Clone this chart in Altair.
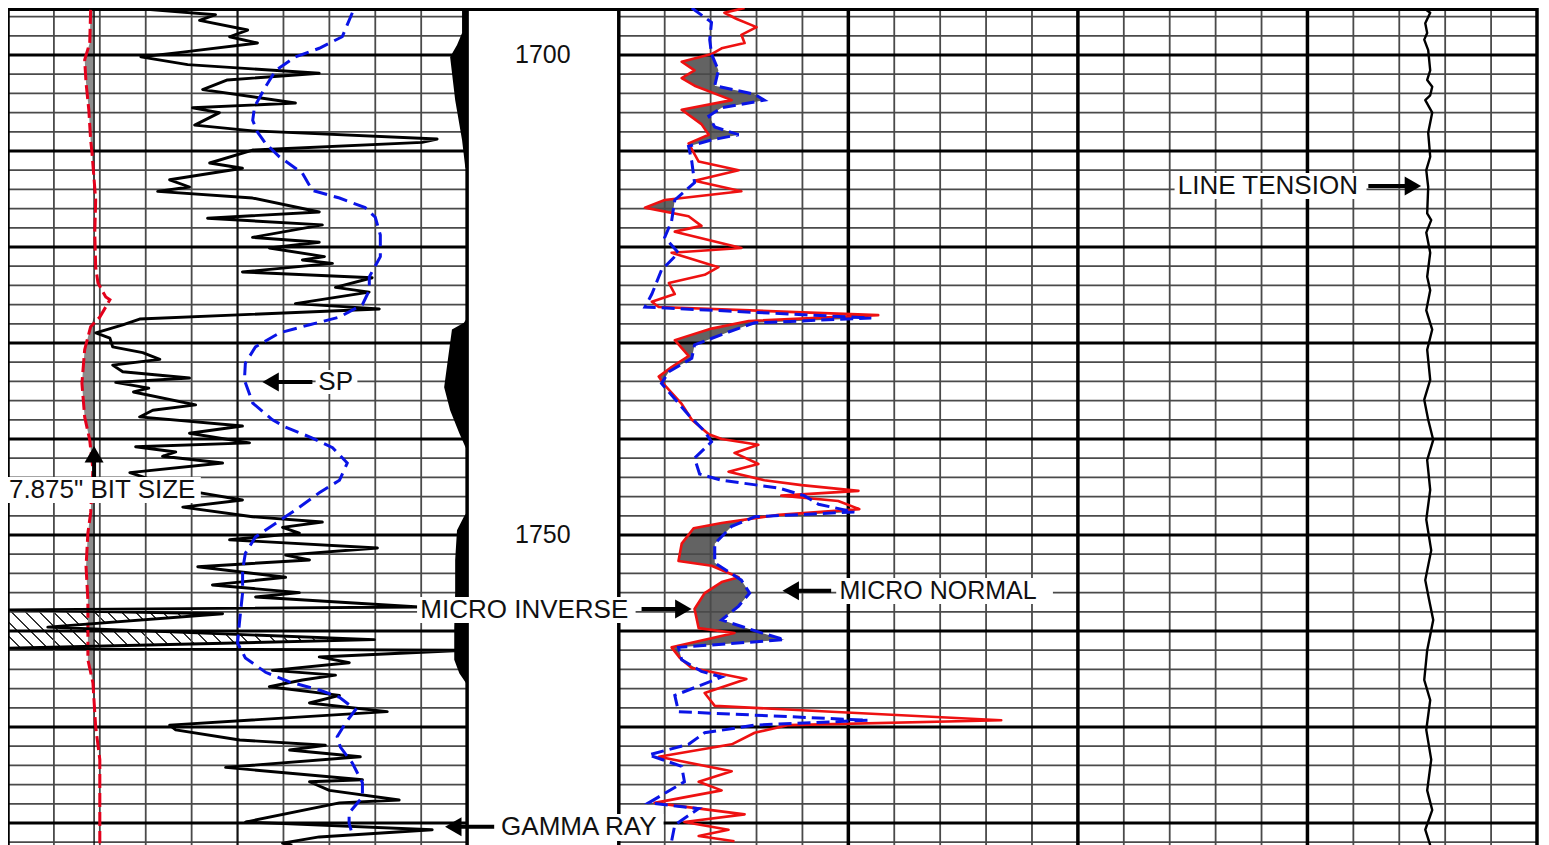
import numpy as np
import pandas as pd
import altair as alt

# ------------------------------------------------------------------
# Well-log data (depth in ft, curve values in their natural units)
# ------------------------------------------------------------------
GR = [  # gamma ray, API (track 1, 0-150)
    (1695.0, 47.3), (1695.2, 43.4), (1695.8, 67.8), (1696.4, 62.6), (1697.4, 78.3), (1698.1, 72.4),
    (1698.75, 81.5), (1699.7, 57.1), (1700.2, 43.4), (1701.0, 58.7), (1701.9, 101.7), (1702.6, 71.7),
    (1703.6, 63.6), (1705.0, 93.9), (1705.5, 60.3), (1706.0, 69.1), (1707.3, 61.0), (1707.9, 79.9),
    (1708.75, 140.2), (1709.1, 135.3), (1709.9, 79.9), (1711.25, 65.9), (1711.8, 76.6), (1713.0, 52.8),
    (1713.75, 59.3), (1714.2, 48.9), (1714.9, 79.9), (1716.35, 101.7), (1717.0, 65.2), (1717.7, 102.7),
    (1719.0, 79.9), (1719.5, 101.7), (1720.1, 85.4), (1721.0, 103.4), (1721.35, 96.2), (1721.7, 106.0),
    (1722.6, 76.6), (1723.2, 119.0), (1724.2, 107.0), (1724.7, 118.0), (1725.9, 93.9), (1726.45, 121.3),
    (1727.5, 43.0), (1728.1, 37.5), (1728.95, 28.7), (1729.5, 33.3), (1730.4, 34.2), (1731.0, 44.0),
    (1731.7, 49.6), (1732.3, 34.2), (1733.0, 37.5), (1733.65, 59.3), (1734.1, 35.2), (1734.7, 46.0),
    (1735.1, 41.0), (1736.45, 61.3), (1737.0, 47.3), (1737.7, 43.0), (1738.65, 76.6), (1739.4, 59.3),
    (1740.4, 78.9), (1740.8, 41.7), (1741.35, 54.8), (1741.8, 50.5), (1742.5, 70.1), (1743.5, 39.8),
    (1745.3, 57.1), (1746.35, 76.6), (1747.1, 57.1), (1748.1, 79.9), (1748.65, 102.7), (1749.2, 89.7),
    (1749.8, 95.2), (1750.5, 72.4), (1751.35, 120.7), (1752.1, 90.7), (1752.6, 98.5), (1753.3, 62.0),
    (1754.4, 90.7), (1755.2, 66.8), (1756.0, 95.2), (1756.45, 80.9), (1757.5, 134.3), (1757.8, 0.0),
    (1758.2, 70.1), (1759.6, 13.0), (1760.9, 119.7), (1761.8, 0.0), (1762.0, 149.3), (1762.7, 101.7),
    (1763.3, 111.5), (1764.1, 86.4), (1764.6, 107.0), (1765.1, 96.2), (1765.8, 85.4), (1766.7, 108.3),
    (1767.5, 98.5), (1768.4, 123.9), (1769.8, 52.8), (1770.3, 54.8), (1771.35, 75.7), (1771.9, 103.7),
    (1772.4, 92.0), (1773.1, 115.1), (1774.2, 71.1), (1775.5, 115.8), (1775.7, 98.5), (1776.6, 105.0),
    (1777.6, 127.8), (1777.9, 108.3), (1779.9, 77.6), (1780.7, 138.6), (1781.45, 101.7), (1782.1, 89.7),
    (1782.3, 92.9),
]
GR_HATCH_ZONE = (1757.8, 1761.8)

SP = [  # spontaneous potential, mV (track 1, -100..0)
    (1695.6, -25.0), (1698.1, -27.2), (1699.3, -32.2), (1700.2, -37.4), (1701.6, -41.7), (1703.3, -43.9),
    (1705.4, -46.3), (1706.8, -46.7), (1708.0, -45.7), (1709.2, -43.9), (1710.6, -40.9), (1712.3, -35.9),
    (1714.1, -33.7), (1714.9, -27.8), (1715.9, -22.2), (1716.9, -20.0), (1718.75, -18.9), (1721.0, -18.9),
    (1723.1, -21.3), (1724.5, -21.3), (1726.0, -22.8), (1727.3, -27.8), (1728.1, -34.3), (1728.95, -40.9),
    (1730.4, -46.1), (1732.1, -48.3), (1733.85, -48.5), (1736.25, -46.7), (1738.0, -42.4), (1738.75, -39.6),
    (1739.9, -33.7), (1740.9, -29.3), (1742.5, -26.1), (1744.3, -27.8), (1745.6, -32.2), (1747.4, -37.4),
    (1749.0, -42.4), (1750.2, -46.1), (1751.9, -48.3), (1753.65, -48.9), (1756.0, -48.9), (1759.2, -49.6),
    (1761.25, -50.0), (1762.8, -48.3), (1764.3, -43.9), (1765.3, -38.7), (1766.15, -32.2), (1766.9, -27.8),
    (1768.2, -24.3), (1769.6, -26.5), (1771.0, -28.3), (1772.1, -27.6), (1773.75, -25.0), (1775.8, -22.8),
    (1777.3, -22.8), (1778.95, -25.7), (1780.0, -25.7), (1781.25, -25.0),
]

CALI = [  # caliper, inches (track 1, 6..16)
    (1695.3, 7.80), (1698.75, 7.78), (1700.5, 7.67), (1702.9, 7.70), (1705.7, 7.76), (1708.85, 7.80),
    (1710.2, 7.83), (1715.1, 7.91), (1718.5, 7.89), (1722.1, 7.91), (1723.75, 7.96), (1725.2, 8.13),
    (1725.5, 8.22), (1727.3, 8.0), (1728.3, 7.80), (1730.7, 7.67), (1734.2, 7.61), (1737.7, 7.67),
    (1740.1, 7.78), (1743.2, 7.85), (1747.7, 7.80), (1749.8, 7.74), (1753.3, 7.70), (1756.8, 7.74),
    (1763.0, 7.74), (1765.4, 7.85), (1770.0, 7.91), (1773.4, 8.0), (1782.1, 8.0),
]
BIT_SIZE = 7.875

SHADE = [  # hole-condition shading at right edge of track 1, inches inward
    (1695.0, 0.11), (1697.7, 0.11), (1698.96, 0.22), (1700.2, 0.37), (1704.7, 0.26), (1708.85, 0.11),
    (1711.7, 0.04), (1712.0, 0.0), (1727.4, 0.0), (1727.9, 0.07), (1728.6, 0.33), (1730.7, 0.39),
    (1734.6, 0.50), (1737.0, 0.37), (1739.4, 0.17), (1740.8, 0.04), (1741.15, 0.0), (1747.6, 0.0),
    (1748.1, 0.07), (1749.5, 0.22), (1752.6, 0.26), (1756.0, 0.26), (1759.6, 0.28), (1763.0, 0.28),
    (1764.4, 0.17), (1765.3, 0.04), (1765.6, 0.0), (1782.3, 0.0),
]

MINV = [  # micro inverse, ohm-m (track 2, 0..20)
    (1695.1, 2.74), (1695.6, 2.30), (1696.25, 2.57), (1697.1, 3.0), (1697.9, 2.67), (1698.75, 2.74),
    (1699.3, 2.24), (1699.9, 2.02), (1700.7, 1.37), (1701.6, 1.65), (1702.4, 1.37), (1703.2, 1.65),
    (1704.7, 2.46), (1705.7, 1.37), (1707.2, 1.80), (1708.3, 1.96), (1709.2, 1.52), (1711.1, 1.74),
    (1712.0, 2.61), (1713.1, 1.65), (1714.2, 2.67), (1715.1, 1.0), (1715.9, 0.57), (1716.8, 1.52),
    (1717.8, 1.80), (1718.4, 1.22), (1720.1, 2.67), (1720.6, 1.15), (1722.1, 2.17), (1722.9, 1.87),
    (1723.75, 1.09), (1724.9, 1.22), (1725.7, 0.72), (1726.25, 0.87), (1727.1, 5.65), (1727.7, 2.83),
    (1728.5, 2.02), (1729.7, 1.22), (1731.35, 1.52), (1732.5, 1.15), (1733.5, 0.87), (1734.4, 1.0),
    (1736.35, 1.37), (1738.0, 1.59), (1739.5, 1.96), (1740.0, 2.24), (1740.6, 3.04), (1741.45, 2.52),
    (1742.6, 3.04), (1743.4, 2.39), (1744.3, 3.17), (1744.8, 3.98), (1745.4, 5.22), (1745.9, 3.54),
    (1746.45, 4.78), (1747.3, 5.24), (1747.9, 3.48), (1748.75, 2.24), (1749.3, 1.63), (1750.9, 1.37),
    (1752.7, 1.30), (1753.2, 2.02), (1754.4, 2.61), (1754.9, 2.24), (1756.05, 1.87), (1757.7, 1.65),
    (1759.7, 1.74), (1760.2, 2.52), (1761.7, 1.15), (1762.8, 1.33), (1763.85, 1.59), (1765.0, 2.78),
    (1766.45, 1.87), (1767.8, 2.09), (1769.3, 8.33), (1769.8, 3.70), (1770.6, 2.96), (1771.8, 2.46),
    (1773.1, 0.87), (1774.6, 2.46), (1775.7, 1.74), (1776.6, 2.24), (1777.9, 0.78), (1779.1, 2.74),
    (1779.9, 1.43), (1780.7, 2.39), (1781.35, 1.74), (1781.9, 2.52),
]

MNOR = [  # micro normal, ohm-m (track 2, 0..20)
    (1695.1, 1.59), (1696.6, 2.02), (1698.4, 1.98), (1699.9, 2.02), (1701.6, 2.17), (1703.2, 2.09),
    (1704.1, 2.96), (1704.7, 3.17), (1705.5, 2.24), (1706.35, 1.96), (1707.5, 2.09), (1708.3, 2.61),
    (1708.85, 2.02), (1709.5, 1.52), (1711.1, 1.59), (1713.3, 1.65), (1715.1, 1.22), (1717.3, 1.15),
    (1719.0, 1.0), (1720.6, 1.30), (1722.4, 0.93), (1724.9, 0.72), (1726.25, 0.57), (1727.4, 5.50),
    (1727.9, 2.96), (1728.85, 2.39), (1730.2, 1.65), (1731.6, 1.59), (1733.0, 1.09), (1734.2, 0.93),
    (1737.5, 1.52), (1739.2, 1.87), (1740.3, 2.02), (1742.0, 1.65), (1743.65, 1.76), (1744.3, 2.24),
    (1745.1, 3.48), (1745.9, 4.04), (1746.8, 4.35), (1747.6, 5.13), (1748.1, 2.96), (1749.1, 2.46),
    (1750.9, 2.09), (1752.9, 2.09), (1754.7, 2.67), (1756.05, 2.85), (1757.4, 2.61), (1758.85, 2.24),
    (1760.2, 3.11), (1760.9, 3.61), (1761.7, 1.30), (1763.0, 1.37), (1764.2, 1.80), (1764.8, 2.24),
    (1766.7, 1.22), (1768.4, 1.30), (1769.3, 5.43), (1769.8, 2.96), (1770.6, 1.87), (1771.8, 1.52),
    (1772.9, 0.65), (1774.1, 1.37), (1775.7, 1.43), (1777.9, 0.65), (1778.5, 1.74), (1780.2, 1.22),
    (1781.9, 1.15),
]

TENS = [  # line tension, lb (track 2, 0..10000)
    (1695.0, 8750), (1695.6, 8837), (1696.7, 8783), (1697.7, 8804), (1698.4, 8772), (1699.5, 8815),
    (1701.6, 8837), (1702.6, 8804), (1703.3, 8859), (1704.2, 8837), (1704.7, 8783), (1706.0, 8859),
    (1708.1, 8815), (1710.6, 8837), (1712.0, 8794), (1713.75, 8815), (1716.5, 8804), (1717.2, 8848),
    (1718.5, 8794), (1720.6, 8837), (1723.1, 8804), (1724.5, 8837), (1726.6, 8794), (1728.6, 8859),
    (1730.7, 8804), (1733.85, 8837), (1735.9, 8772), (1738.0, 8815), (1740.1, 8870), (1742.2, 8804),
    (1745.3, 8837), (1748.4, 8794), (1751.6, 8848), (1754.7, 8783), (1756.8, 8826), (1758.85, 8870),
    (1762.0, 8804), (1765.1, 8772), (1767.2, 8837), (1770.3, 8794), (1773.4, 8848), (1776.6, 8804),
    (1778.65, 8859), (1780.7, 8783), (1782.3, 8837),
]

DEPTH_LABELS = [1700, 1750]

# annotations: text, x (track divisions), depth, font size, align
LABELS = [
    ("SP", 6.76, 1734.06, 26, "left"),
    ('7.875" BIT SIZE', 0.02, 1745.3, 26, "left"),
    ("GAMMA RAY", 10.74, 1780.4, 26, "left"),
    ("MICRO INVERSE", 8.98, 1757.8, 26, "left"),
    ("MICRO NORMAL", 18.11, 1755.8, 25, "left"),
    ("LINE TENSION", 25.48, 1713.65, 26, "left"),
]
LABEL_BOXES = [  # x1, x2 (divisions), depth1, depth2
    (6.70, 7.61, 1732.8, 1735.3),
    (0.0, 4.20, 1743.96, 1746.67),
    (10.67, 14.28, 1779.06, 1781.88),
    (8.91, 13.67, 1756.46, 1759.17),
    (18.04, 22.76, 1754.48, 1757.19),
    (25.41, 29.59, 1712.29, 1715.0),
]
ARROWS = [  # tip x, tip depth, tail x, tail depth
    (5.54, 1734.06, 6.63, 1734.06),
    (1.875, 1740.73, 1.875, 1743.96),
    (9.52, 1780.4, 10.59, 1780.4),
    (14.89, 1757.7, 13.80, 1757.7),
    (16.87, 1755.8, 17.93, 1755.8),
    (30.78, 1713.65, 29.63, 1713.65),
]

# ------------------------------------------------------------------
# Layout: horizontal coordinate in chart divisions
#   track 1: 0..10, depth column 10..13.304, track 2: 13.304..33.304
# ------------------------------------------------------------------
W, H = 1529, 837
N_DIV = 33.304
T2 = 13.304
DEPTH_TOP, DEPTH_BOT = 1695.104, 1782.29
PX_DIV = W / N_DIV
PX_FT = H / (DEPTH_BOT - DEPTH_TOP)
FONT = "Liberation Sans"

X = alt.X("pos:Q", scale=alt.Scale(domain=[0, N_DIV], nice=False, zero=False), axis=None)
X2 = alt.X2("pos2:Q")
Y = alt.Y("depth:Q", scale=alt.Scale(domain=[DEPTH_TOP, DEPTH_BOT], reverse=True, nice=False, zero=False),
          axis=None)
Y2 = alt.Y2("depth2:Q")


def curve(pairs, to_pos):
    df = pd.DataFrame(pairs, columns=["depth", "val"])
    df["pos"] = to_pos(df["val"])
    df["idx"] = np.arange(len(df))
    return df


gr = curve(GR, lambda v: v / 15.0)
sp = curve(SP, lambda v: (v + 100.0) / 10.0)
cal = curve(CALI, lambda v: v - 6.0)
shade = curve(SHADE, lambda v: 10.0 - v)
minv = curve(MINV, lambda v: T2 + v)
mnor = curve(MNOR, lambda v: T2 + v)
tens = curve(TENS, lambda v: T2 + v / 500.0)
bit_pos = BIT_SIZE - 6.0

# fills
cal_fill = cal.copy()
cal_fill["pos"] = np.minimum(cal["pos"], bit_pos)
cal_fill["pos2"] = bit_pos
shade["pos2"] = 10.0
mnor_fill = mnor.copy(); mnor_fill["pos2"] = T2
minv_fill = minv.copy(); minv_fill["pos2"] = T2
hatch = gr[(gr["depth"] >= GR_HATCH_ZONE[0]) & (gr["depth"] <= GR_HATCH_ZONE[1])].copy()
hatch["pos2"] = 0.0

# hatch pattern as striped linear gradient
hw = hatch["pos"].max() * PX_DIV
hh = (hatch["depth"].max() - hatch["depth"].min()) * PX_FT
ratio = hh / hw
n_str = max(1, int(round(hw * (1 + ratio ** 2) / 13.5)))
stops = []
for i in range(n_str):
    a, b, c = i / n_str, (i + 0.86) / n_str, (i + 1) / n_str
    stops += [alt.GradientStop(offset=a, color="white"), alt.GradientStop(offset=b, color="white"),
              alt.GradientStop(offset=b, color="#333333"), alt.GradientStop(offset=c, color="#333333")]
hatch_grad = alt.LinearGradient(gradient="linear", stops=stops, x1=0, y1=1, x2=1, y2=1 - ratio)

# grid
hd = np.arange(1696, 1783, 2)
h_rows = []
for d in hd:
    kind = "heavy" if d % 10 == 0 else "thin"
    h_rows.append({"depth": float(d), "pos": 0.0, "pos2": 10.0, "kind": kind})
    h_rows.append({"depth": float(d), "pos": T2, "pos2": N_DIV, "kind": kind})
hgrid = pd.DataFrame(h_rows)
v_rows = []
for k in range(11):
    v_rows.append({"pos": float(k), "kind": "heavy" if k in (0, 10) else ("mid" if k == 5 else "thin")})
for k in range(21):
    v_rows.append({"pos": T2 + k, "kind": "heavy" if k % 5 == 0 else "thin"})
vgrid = pd.DataFrame(v_rows)

# annotations
lab = pd.DataFrame(LABELS, columns=["text", "pos", "depth", "fs", "align"])
dlab = pd.DataFrame({"text": [str(d) for d in DEPTH_LABELS], "pos": 11.65, "depth": [float(d) for d in DEPTH_LABELS]})
boxes = pd.DataFrame(LABEL_BOXES, columns=["pos", "pos2", "depth", "depth2"])
HEAD = 361
hoff = np.sqrt(3) / 2 * np.sqrt(HEAD) / 2
ar = []
for tx, td, sx, sd in ARROWS:
    dxp, dyp = (sx - tx) * PX_DIV, (sd - td) * PX_FT
    L = np.hypot(dxp, dyp)
    cx = tx + hoff * dxp / L / PX_DIV
    cy = td + hoff * dyp / L / PX_FT
    if abs(dxp) > abs(dyp):
        shape = "triangle-left" if dxp > 0 else "triangle-right"
    else:
        shape = "triangle-up" if dyp > 0 else "triangle-down"
    ar.append({"pos": sx, "depth": sd, "pos2": cx, "depth2": cy, "hx": cx, "hy": cy, "shape": shape})
arrows = pd.DataFrame(ar)
top = pd.DataFrame({"depth": [DEPTH_TOP], "pos": [0.0], "pos2": [N_DIV]})

layers = []
# checker-like separation fill (normal > inverse) via mask
layers.append(alt.Chart(mnor_fill).mark_area(orient="horizontal", color="#636363").encode(x=X, x2=X2, y=Y))
layers.append(alt.Chart(minv_fill).mark_area(orient="horizontal", color="white").encode(x=X, x2=X2, y=Y))
layers.append(alt.Chart(hatch).mark_area(orient="horizontal", color=hatch_grad).encode(x=X, x2=X2, y=Y))
layers.append(alt.Chart(cal_fill).mark_area(orient="horizontal", color="#8c8c8c").encode(x=X, x2=X2, y=Y))
# grid
layers.append(alt.Chart(hgrid[hgrid.kind == "thin"]).mark_rule(color="#4a4a4a", strokeWidth=1.8)
              .encode(x=X, x2=X2, y=Y))
layers.append(alt.Chart(vgrid[vgrid.kind == "thin"]).mark_rule(color="#4a4a4a", strokeWidth=1.8).encode(x=X))
layers.append(alt.Chart(vgrid[vgrid.kind == "mid"]).mark_rule(color="#111111", strokeWidth=2.2).encode(x=X))
layers.append(alt.Chart(hgrid[hgrid.kind == "heavy"]).mark_rule(color="black", strokeWidth=3)
              .encode(x=X, x2=X2, y=Y))
layers.append(alt.Chart(vgrid[vgrid.kind == "heavy"]).mark_rule(color="black", strokeWidth=3.5).encode(x=X))
layers.append(alt.Chart(top).mark_rule(color="black", strokeWidth=3, yOffset=1.5).encode(x=X, x2=X2, y=Y))
# shading at right of track 1
layers.append(alt.Chart(shade).mark_area(orient="horizontal", color="black").encode(x=X, x2=X2, y=Y))
# bit size reference line
layers.append(alt.Chart(pd.DataFrame({"pos": [bit_pos]})).mark_rule(color="black", strokeWidth=1.3).encode(x=X))
# curves
layers.append(alt.Chart(cal).mark_line(color="#e3001b", strokeWidth=3, strokeDash=[14, 5])
              .encode(x=X, y=Y, order="idx:Q"))
layers.append(alt.Chart(gr).mark_line(color="black", strokeWidth=2.9, strokeJoin="round")
              .encode(x=X, y=Y, order="idx:Q"))
layers.append(alt.Chart(sp).mark_line(color="#0a14e6", strokeWidth=3, strokeDash=[14, 7])
              .encode(x=X, y=Y, order="idx:Q"))
layers.append(alt.Chart(minv).mark_line(color="#ee1111", strokeWidth=2.6, strokeJoin="round")
              .encode(x=X, y=Y, order="idx:Q"))
layers.append(alt.Chart(mnor).mark_line(color="#0a14e6", strokeWidth=3, strokeDash=[13, 6])
              .encode(x=X, y=Y, order="idx:Q"))
layers.append(alt.Chart(tens).mark_line(color="black", strokeWidth=2.4, strokeJoin="round")
              .encode(x=X, y=Y, order="idx:Q"))
# annotation boxes, labels, arrows
layers.append(alt.Chart(boxes).mark_rect(color="white").encode(x=X, x2=X2, y=Y, y2=Y2))
layers.append(alt.Chart(lab).mark_text(align="left", baseline="middle", font=FONT, color="#111111")
              .encode(x=X, y=Y, text="text:N", size=alt.Size("fs:Q", scale=None)))
layers.append(alt.Chart(dlab).mark_text(align="center", baseline="middle", font=FONT, fontSize=25, color="#111111")
              .encode(x=X, y=Y, text="text:N"))
layers.append(alt.Chart(arrows).mark_rule(color="black", strokeWidth=4).encode(x=X, x2=X2, y=Y, y2=Y2))
layers.append(alt.Chart(arrows).mark_point(filled=True, color="black", opacity=1, size=HEAD, strokeWidth=0)
              .encode(x=alt.X("hx:Q"), y=alt.Y("hy:Q"), shape=alt.Shape("shape:N", scale=None)))

chart = alt.layer(*layers).properties(
    width=W, height=H,
    padding={"left": 0, "top": 0, "right": 4, "bottom": 0},
    autosize=alt.AutoSizeParams(type="none"),
    background="white",
).configure_view(stroke=None)

chart.save("out.html", embed_options={"renderer": "svg", "actions": False})
